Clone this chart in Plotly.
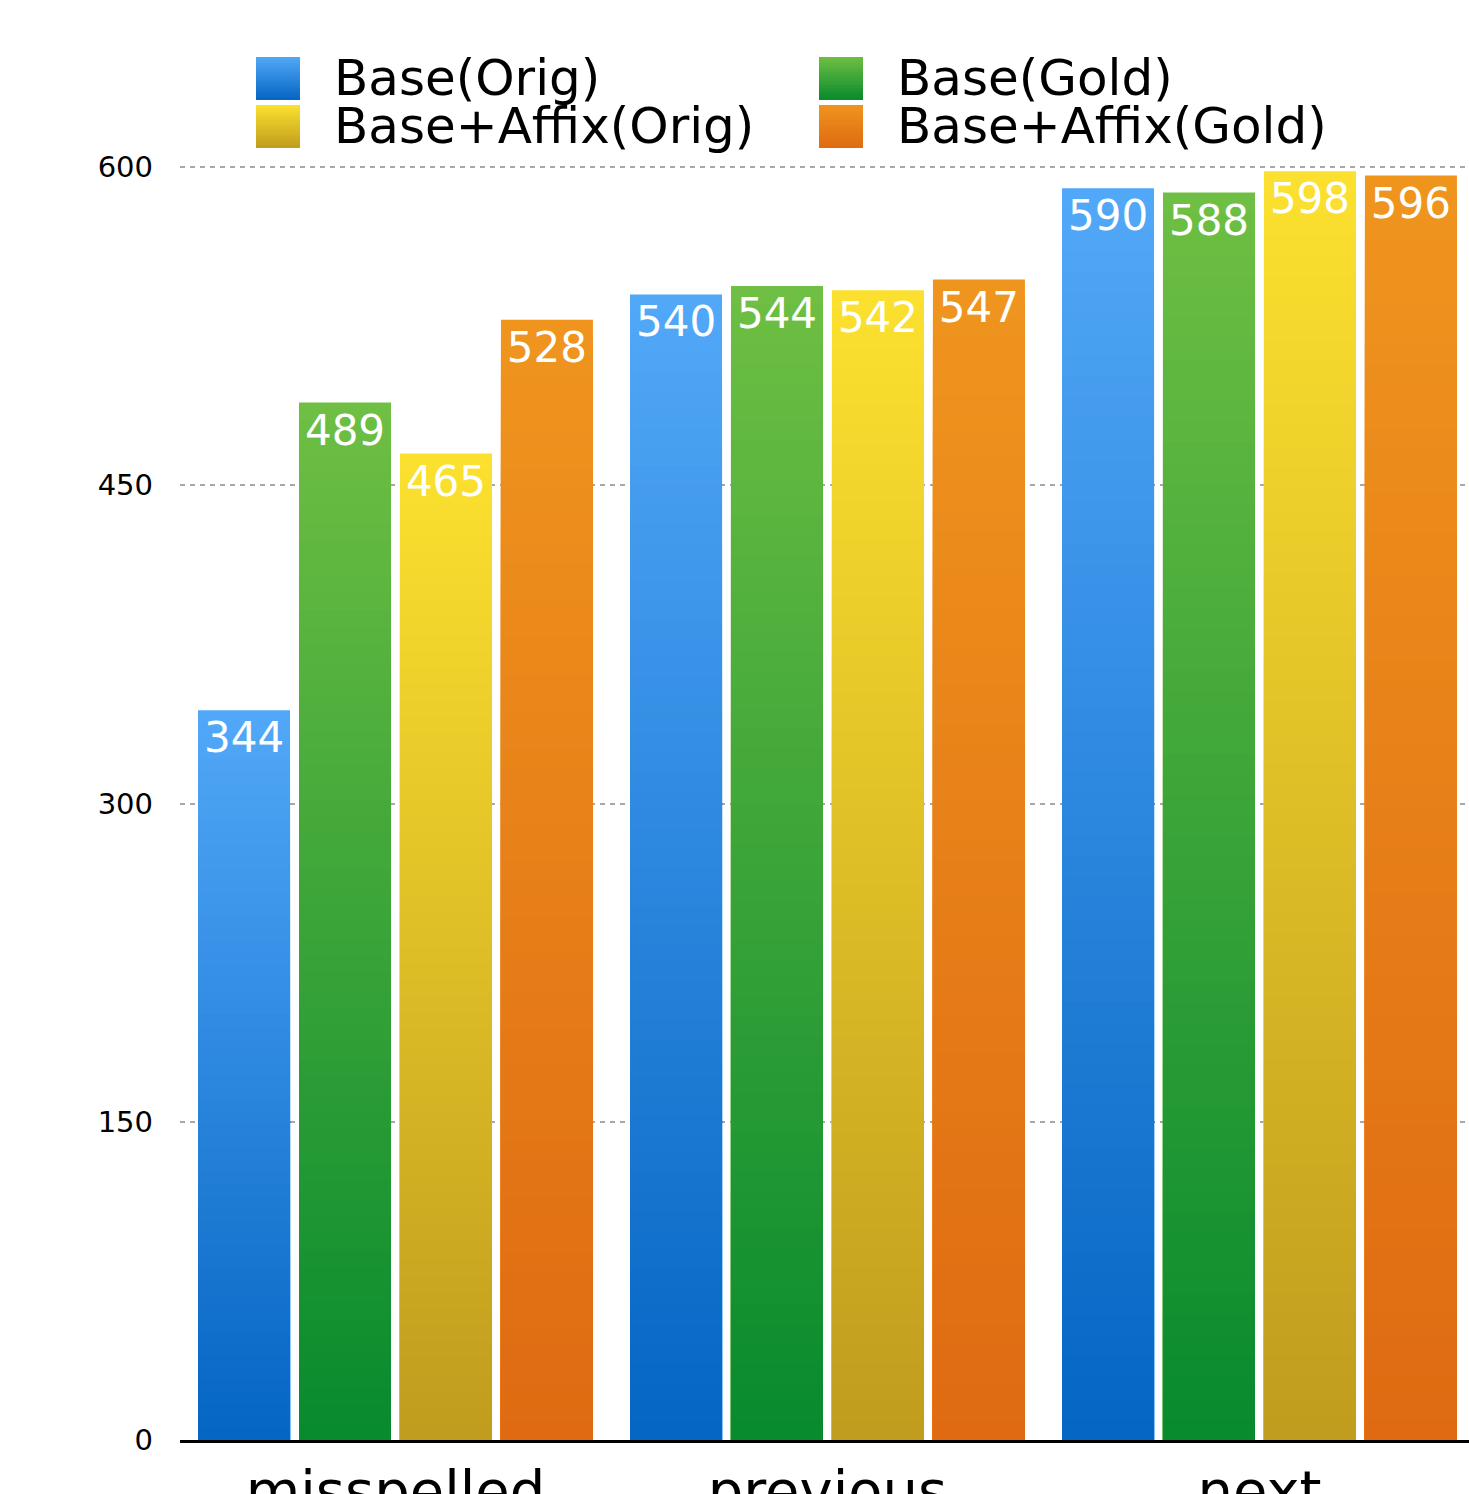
import plotly.graph_objects as go

# ---------------- data ----------------
categories = ["misspelled", "previous", "next"]
series_names = ["Base(Orig)", "Base(Gold)", "Base+Affix(Orig)", "Base+Affix(Gold)"]
base_orig = [344, 540, 590]
base_gold = [489, 544, 588]
affix_orig = [465, 542, 598]
affix_gold = [528, 547, 596]
y_ticks = [0, 150, 300, 450, 600]

series_values = [base_orig, base_gold, affix_orig, affix_gold]
top_colors = ["#52a8f8", "#6fbf43", "#fbe12f", "#ef951e"]
bottom_colors = ["#0565c3", "#078a2e", "#c09c1e", "#df6a12"]

FONT = "DejaVu Sans"
N_SEG = 60

W, H = 1469, 1494
ML, MR, MT, MB = 180, 0, 165, 54
PW, PH = W - ML - MR, H - MT - MB


def hex2rgb(h):
    h = h.lstrip("#")
    return tuple(int(h[i:i + 2], 16) for i in (0, 2, 4))


def mix(c0, c1, t):
    a, b = hex2rgb(c0), hex2rgb(c1)
    return "rgb({},{},{})".format(*[round(a[i] + (b[i] - a[i]) * t) for i in range(3)])


fig = go.Figure()

for name, vals, ctop, cbot in zip(series_names, series_values, top_colors, bottom_colors):
    # overlaid bars of decreasing height -> vertical gradient without seams
    for k in range(N_SEG):
        frac = (N_SEG - k) / N_SEG
        t = (N_SEG - k - 0.5) / N_SEG
        fig.add_trace(go.Bar(
            x=categories,
            y=[v * frac for v in vals],
            offsetgroup=name,
            marker=dict(color=mix(cbot, ctop, t), line=dict(width=0)),
            showlegend=False,
            hoverinfo="skip",
        ))
    fig.add_trace(go.Bar(
        x=categories,
        y=vals,
        offsetgroup=name,
        name=name,
        marker=dict(color="rgba(0,0,0,0)", line=dict(width=0)),
        text=[str(v) for v in vals],
        textposition="inside",
        insidetextanchor="end",
        textangle=0,
        insidetextfont=dict(color="white", size=42, family=FONT),
        showlegend=False,
    ))

# ---------------- custom legend ----------------
def px2paper_x(px):
    return (px - ML) / PW


def px2paper_y(py):
    return 1 - (py - MT) / PH


legend_pos = [(256, 57), (819, 57), (256, 105), (819, 105)]
sw_w, sw_h = 44, 43
shapes = []
annotations = []
n_strip = 14
for (lx, ly), name, ctop, cbot in zip(legend_pos, series_names, top_colors, bottom_colors):
    for s in range(n_strip):
        y0 = ly + sw_h * s / n_strip
        t = 1 - (s + 0.5) / n_strip
        shapes.append(dict(
            type="rect", xref="paper", yref="paper",
            x0=px2paper_x(lx), x1=px2paper_x(lx + sw_w),
            y0=px2paper_y(ly + sw_h), y1=px2paper_y(y0),
            fillcolor=mix(cbot, ctop, t), line=dict(width=0), layer="above",
        ))
    annotations.append(dict(
        text=name, xref="paper", yref="paper",
        x=px2paper_x(lx + 76), y=px2paper_y(ly + sw_h / 2),
        xanchor="left", yanchor="middle", showarrow=False,
        font=dict(size=50, color="black", family=FONT),
    ))

fig.update_layout(
    width=W, height=H,
    margin=dict(l=ML, r=MR, t=MT, b=MB, pad=0),
    paper_bgcolor="white", plot_bgcolor="white",
    barmode="group", bargap=0.065, bargroupgap=0.089,
    showlegend=False,
    shapes=shapes, annotations=annotations,
    xaxis=dict(
        type="category", range=[-0.4988, 2.485], autorange=False,
        showline=True, linecolor="black", linewidth=3,
        showgrid=False, ticks="", ticklabelstandoff=0,
        tickfont=dict(size=56, color="black", family=FONT),
        automargin=False, fixedrange=True,
    ),
    yaxis=dict(
        range=[0, 601], autorange=False, tickvals=y_ticks,
        showline=False, zeroline=False, ticks="",
        showgrid=True, gridcolor="#a8a8a8", gridwidth=2, griddash="5px,5px",
        tickfont=dict(size=29, color="black", family=FONT),
        ticklabelstandoff=26, automargin=False, fixedrange=True,
    ),
)

fig.write_html("out.html")
